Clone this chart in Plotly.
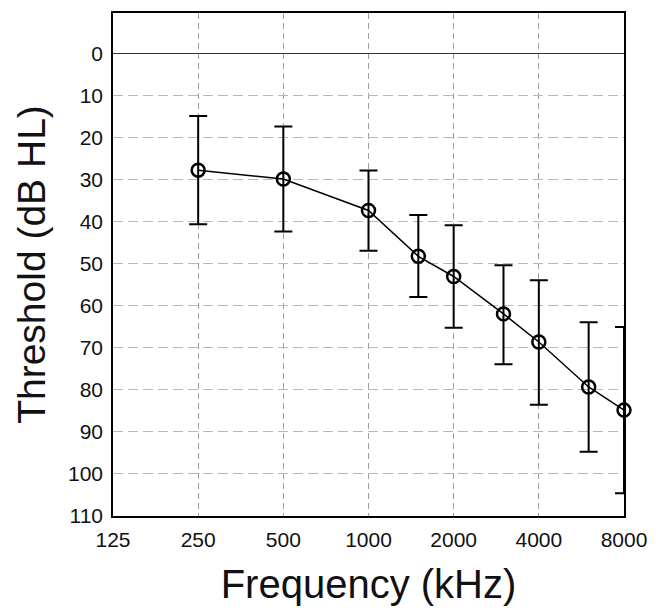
import plotly.graph_objects as go

frequencies = [250, 500, 1000, 1500, 2000, 3000, 4000, 6000, 8000]
threshold = [27.7, 29.8, 37.3, 48.2, 53.0, 61.9, 68.6, 79.3, 84.8]
err_plus = [12.9, 12.5, 9.6, 9.7, 12.2, 12.0, 14.9, 15.4, 19.8]
err_minus = [12.9, 12.5, 9.5, 9.8, 12.2, 11.6, 14.7, 15.4, 19.8]

x_ticks = [125, 250, 500, 1000, 2000, 4000, 8000]
x_ticktext = ["125", "250", "500", "1000", "2000", "4000", "8000"]
y_ticks = [0, 10, 20, 30, 40, 50, 60, 70, 80, 90, 100, 110]

FONT = "Liberation Sans, Arial, sans-serif"

fig = go.Figure()
fig.add_trace(go.Scatter(
    x=frequencies, y=threshold,
    mode="lines+markers",
    line=dict(color="black", width=1.5),
    marker=dict(symbol="circle-open", size=13, color="black", line=dict(width=2.5, color="black")),
    error_y=dict(type="data", symmetric=False, array=err_plus, arrayminus=err_minus,
                 color="black", thickness=2, width=9),
    cliponaxis=False,
    showlegend=False,
))

fig.update_layout(
    width=666, height=610,
    margin=dict(l=113, r=42, t=11, b=89),
    paper_bgcolor="white", plot_bgcolor="white",
    font=dict(family=FONT, color="#111111"),
    xaxis=dict(
        type="log",
        range=[2.09691, 3.90309],
        tickvals=x_ticks, ticktext=x_ticktext,
        tickfont=dict(size=21, family=FONT, color="#111111"),
        ticks="", ticklabelstandoff=4,
        showgrid=True, gridcolor="#a0a0a0", gridwidth=1, griddash="6px,4px",
        showline=True, linecolor="black", linewidth=1.6, mirror=True,
        title=dict(text="Frequency (kHz)", font=dict(size=40, family=FONT, color="#111111"), standoff=20),
        zeroline=False,
    ),
    yaxis=dict(
        range=[110, -9.7],
        tickvals=y_ticks,
        tickfont=dict(size=21, family=FONT, color="#111111"),
        ticks="", ticklabelstandoff=4,
        showgrid=True, gridcolor="#b8b8b8", gridwidth=1, griddash="10px,5px",
        showline=True, linecolor="black", linewidth=1.6, mirror=True,
        zeroline=True, zerolinecolor="#333333", zerolinewidth=1.4,
        title=dict(text="Threshold (dB HL)", font=dict(size=39, family=FONT, color="#111111"), standoff=10),
    ),
)

fig.write_html("out.html", config={"displayModeBar": False},
               post_script="document.body.style.margin='0px';document.body.style.overflow='hidden';")
